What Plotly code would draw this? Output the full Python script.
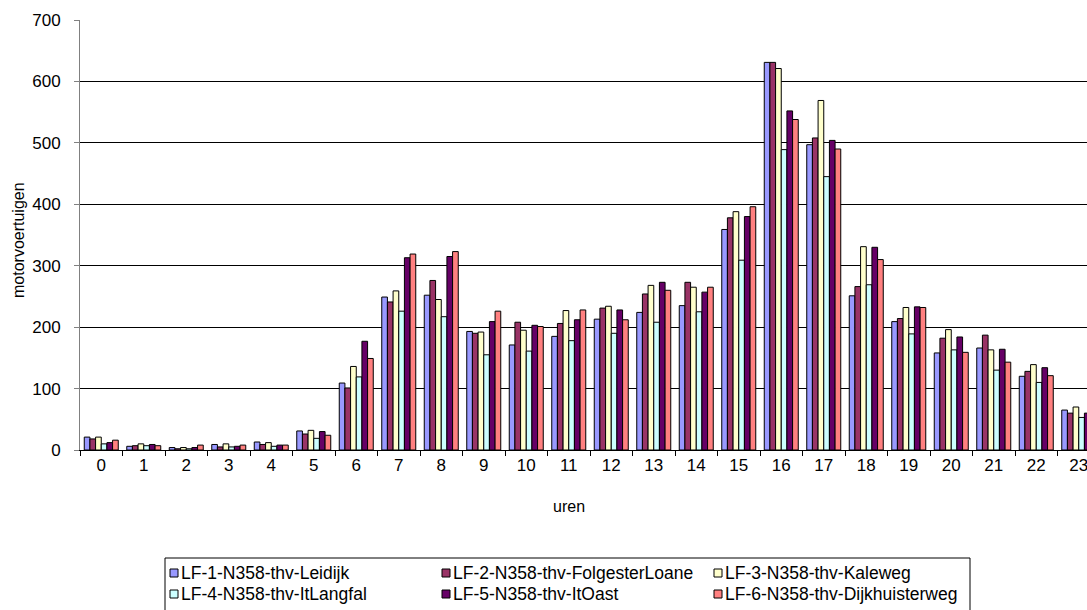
import plotly.graph_objects as go

# Hourly motor-vehicle counts at six counting points on the N358
hours = [str(h) for h in range(24)]

series_names = [
    "LF-1-N358-thv-Leidijk",
    "LF-2-N358-thv-FolgesterLoane",
    "LF-3-N358-thv-Kaleweg",
    "LF-4-N358-thv-ItLangfal",
    "LF-5-N358-thv-ItOast",
    "LF-6-N358-thv-Dijkhuisterweg",
]

leidijk = [21, 6, 4, 9, 13, 31, 109, 249, 252, 193, 171, 185, 213, 224, 235, 359, 631, 497, 251, 209, 158, 166, 120, 65]
folgesterloane = [18, 7, 2, 5, 9, 26, 101, 241, 276, 190, 208, 206, 231, 254, 273, 378, 631, 508, 266, 214, 182, 187, 128, 60]
kaleweg = [21, 10, 4, 10, 12, 32, 136, 259, 245, 192, 195, 227, 234, 268, 265, 388, 621, 569, 331, 232, 196, 163, 139, 70]
itlangfal = [10, 7, 2, 5, 6, 19, 119, 226, 217, 155, 161, 178, 190, 208, 225, 309, 489, 445, 269, 189, 163, 130, 110, 53]
itoast = [12, 9, 4, 6, 8, 30, 177, 313, 315, 209, 203, 212, 228, 273, 257, 380, 552, 504, 330, 233, 184, 164, 134, 60]
dijkhuisterweg = [16, 7, 8, 8, 8, 24, 149, 319, 323, 226, 201, 228, 212, 260, 265, 396, 538, 490, 310, 232, 159, 143, 121, 57]

series_values = [leidijk, folgesterloane, kaleweg, itlangfal, itoast, dijkhuisterweg]
colors = ["#9999FF", "#993366", "#FFFFCC", "#CCFFFF", "#660066", "#FF8080"]

y_ticks = [0, 100, 200, 300, 400, 500, 600, 700]

W, H = 1087, 610
ML, MR, MT, MB = 80, 0, 20, 160
PW, PH = W - ML - MR, H - MT - MB
CAT_PX = 42.5  # width of one hour slot in pixels


def px_x(x):
    return (x - ML) / PW


def px_y(y):
    return (H - MB - y) / PH


fig = go.Figure()
for name, vals, col in zip(series_names, series_values, colors):
    fig.add_trace(go.Bar(
        x=hours, y=vals, name=name,
        marker=dict(color=col, line=dict(color="#000000", width=1)),
        showlegend=False,
    ))

font_main = "Liberation Sans, Arial, sans-serif"

# Legend drawn as a boxed 3x2 grid below the chart
shapes = [dict(
    type="rect", xref="paper", yref="paper",
    x0=px_x(165), x1=px_x(970), y0=px_y(558), y1=px_y(640),
    line=dict(color="#000000", width=1), fillcolor="rgba(0,0,0,0)", layer="above",
)]
annotations = []
col_icon_x = [174, 446, 718]
row_y = [573, 594]
for i, (name, col) in enumerate(zip(series_names, colors)):
    cx = col_icon_x[i % 3]
    cy = row_y[i // 3]
    shapes.append(dict(
        type="rect", xref="paper", yref="paper",
        x0=px_x(cx - 4), x1=px_x(cx + 4), y0=px_y(cy - 4), y1=px_y(cy + 4),
        line=dict(color="#000000", width=1), fillcolor=col, layer="above",
    ))
    annotations.append(dict(
        text=name, xref="paper", yref="paper",
        x=px_x(cx + 5), y=px_y(cy), xanchor="left", yanchor="middle",
        showarrow=False,
        font=dict(family=font_main, size=17.5, color="#000000"),
    ))

# Axis titles
annotations.append(dict(
    text="uren", xref="paper", yref="paper", x=px_x(569), y=px_y(507),
    xanchor="center", yanchor="middle", showarrow=False,
    font=dict(family=font_main, size=16, color="#000000"),
))
annotations.append(dict(
    text="motorvoertuigen", xref="paper", yref="paper", x=px_x(18), y=px_y(240),
    xanchor="center", yanchor="middle", textangle=-90, showarrow=False,
    font=dict(family=font_main, size=16, color="#000000"),
))

fig.update_layout(
    width=W, height=H, autosize=False,
    margin=dict(l=ML, r=MR, t=MT, b=MB, pad=0),
    paper_bgcolor="#FFFFFF", plot_bgcolor="#FFFFFF",
    barmode="group", bargap=0.2, bargroupgap=0.0,
    font=dict(family=font_main, color="#000000"),
    shapes=shapes, annotations=annotations,
    showlegend=False,
)

fig.update_xaxes(
    type="category", categoryorder="array", categoryarray=hours,
    range=[-0.5, -0.5 + PW / CAT_PX],
    showline=True, linecolor="#000000", linewidth=1,
    ticks="outside", tickson="boundaries", ticklen=5, tickcolor="#000000",
    tickfont=dict(family=font_main, size=17, color="#000000"),
    showgrid=False, zeroline=False,
)
fig.update_yaxes(
    range=[0, 700], tickvals=y_ticks, ticktext=[str(v) for v in y_ticks],
    showline=True, linecolor="#808080", linewidth=1,
    ticks="outside", ticklen=5, tickcolor="#808080",
    ticklabelstandoff=10,
    tickfont=dict(family=font_main, size=17, color="#000000"),
    showgrid=True, gridcolor="#000000", gridwidth=1, zeroline=False,
)

fig.write_html("out.html")
